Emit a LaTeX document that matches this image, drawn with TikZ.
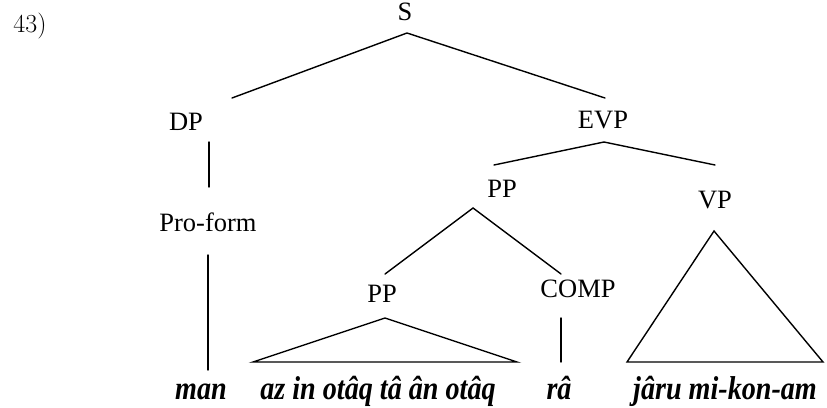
\documentclass[tikz,border=0pt]{standalone}
\usepackage{fontspec}
\setmainfont{Liberation Serif}
\newfontfamily\lmfont{Latin Modern Roman}
\newcommand{\tallword}[1]{\scalebox{0.97}[1.14]{#1}}
\begin{document}
\begin{tikzpicture}[x=1pt,y=-1pt,
  lab/.style={anchor=base,inner sep=0pt,font=\fontsize{26.5}{30}\selectfont},
  word/.style={anchor=base,inner sep=0pt,font=\fontsize{29}{33}\selectfont\bfseries\itshape},
  branch/.style={line width=1.4pt,line cap=round}]
\useasboundingbox (0,0) rectangle (827,407);
% labels
\node[anchor=base,inner sep=0pt,font=\lmfont\fontsize{26}{30}\selectfont] (num) at (30,32) {43)};
\node[lab] (S) at (405,20) {S};
\node[lab] (DP) at (186,130) {DP};
\node[lab] (EVP) at (603,128) {EVP};
\node[lab] (PPa) at (502,197) {PP};
\node[lab] (VP) at (715,208) {VP};
\node[lab] (Pro) at (208,231) {Pro-form};
\node[lab] (PPb) at (382,302) {PP};
\node[lab] (COMP) at (578,297) {COMP};
% words
\node[word] (man) at (201,399) {\tallword{man}};
\node[word] (az) at (378,399) {\tallword{az in otâq tâ ân otâq}};
\node[word] (ra) at (559,399) {\tallword{râ}};
\node[word] (jaru) at (725,399) {\tallword{jâru mi-kon-am}};
% branch points
\coordinate (S-b) at (407,33);
\coordinate (DP-t) at (232,98);
\coordinate (EVP-t) at (605,98);
\coordinate (DP-b) at (209,142);
\coordinate (Pro-t) at (209,187);
\coordinate (Pro-b) at (208,255);
\coordinate (man-t) at (208,370);
\coordinate (EVP-b) at (604,142);
\coordinate (PPa-t) at (494,165);
\coordinate (VP-t) at (715,165);
\coordinate (PPa-b) at (473,208);
\coordinate (PPb-t) at (385,274);
\coordinate (COMP-t) at (561,274);
\coordinate (PPb-b) at (385,318);
\coordinate (az-l) at (253,362);
\coordinate (az-r) at (517,362);
\coordinate (COMP-b) at (561,318);
\coordinate (ra-t) at (561,362);
\coordinate (VP-b) at (714,231);
\coordinate (jaru-l) at (627,362);
\coordinate (jaru-r) at (823,362);
% branches
\draw[branch] (DP-t) -- (S-b) -- (EVP-t);
\draw[branch] (DP-b) -- (Pro-t);
\draw[branch] (Pro-b) -- (man-t);
\draw[branch] (PPa-t) -- (EVP-b) -- (VP-t);
\draw[branch] (PPb-t) -- (PPa-b) -- (COMP-t);
\draw[branch,line join=miter] (PPb-b) -- (az-r) -- (az-l) -- cycle;
\draw[branch] (COMP-b) -- (ra-t);
\draw[branch,line join=miter] (VP-b) -- (jaru-r) -- (jaru-l) -- cycle;
\end{tikzpicture}
\end{document}
